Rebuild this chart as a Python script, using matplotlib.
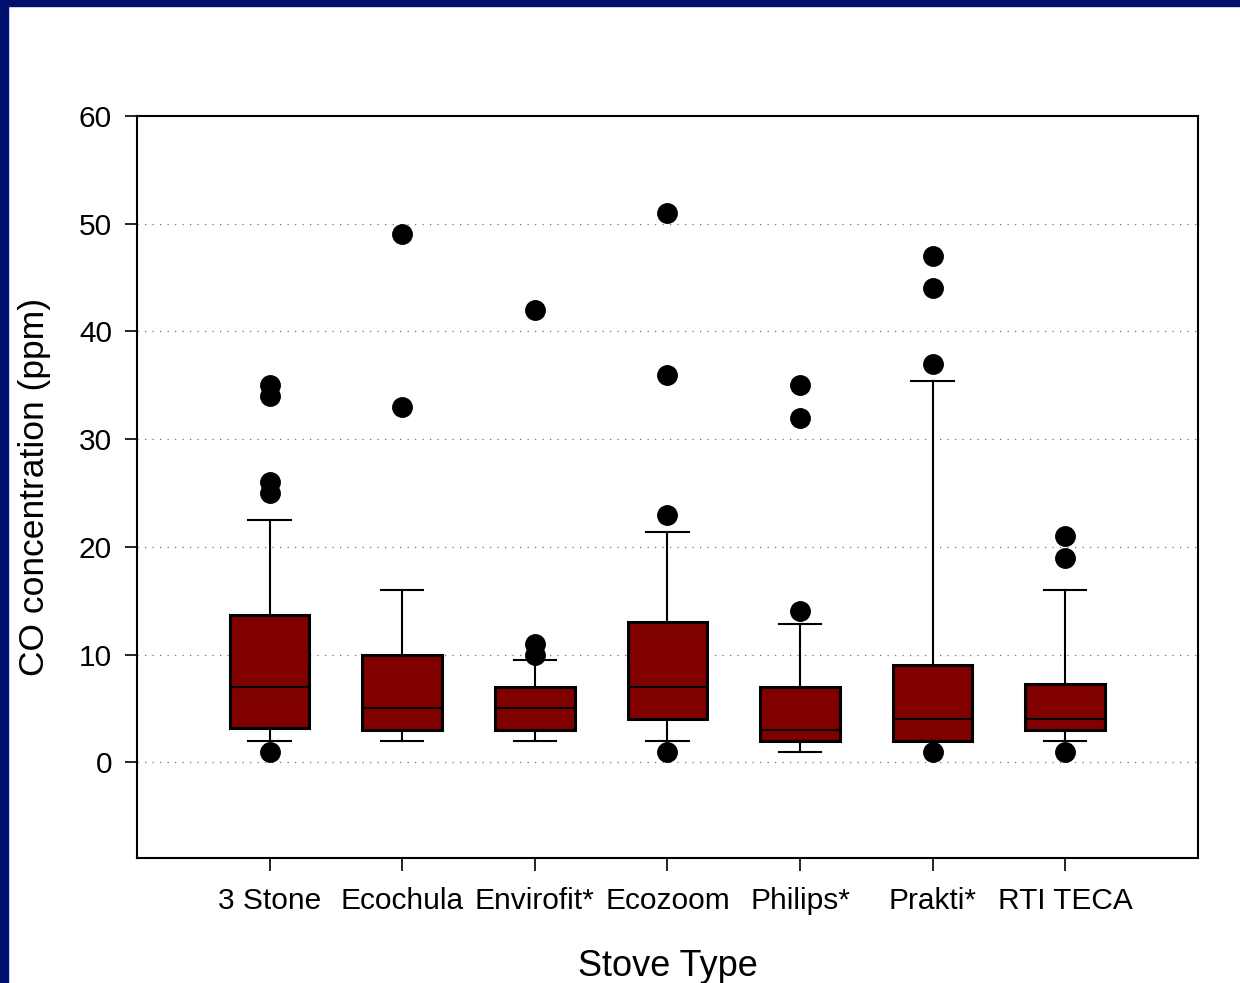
import matplotlib
matplotlib.use("Agg")
import matplotlib.pyplot as plt
from matplotlib.patches import Rectangle

plt.rcParams['font.family'] = ['Liberation Sans', 'DejaVu Sans']

# box statistics (ppm)
stoves = ['3 Stone', 'Ecochula', 'Envirofit*', 'Ecozoom', 'Philips*', 'Prakti*', 'RTI TECA']
q1 = [3.2, 3.0, 3.0, 4.0, 2.0, 2.0, 3.0]
med = [7.0, 5.0, 5.0, 7.0, 3.0, 4.0, 4.0]
q3 = [13.7, 10.0, 7.0, 13.0, 7.0, 9.0, 7.3]
whis_lo = [2.0, 2.0, 2.0, 2.0, 1.0, 2.0, 2.0]
whis_hi = [22.5, 16.0, 9.5, 21.4, 12.8, 35.4, 16.0]
outliers = [
    [1, 25, 26, 34, 35],
    [33, 49],
    [10, 11, 42],
    [1, 23, 36, 51],
    [14, 32, 35],
    [1, 37, 44, 47],
    [1, 19, 21],
]

stats = []
for i, name in enumerate(stoves):
    stats.append({'label': name, 'q1': q1[i], 'med': med[i], 'q3': q3[i],
                  'whislo': whis_lo[i], 'whishi': whis_hi[i], 'fliers': outliers[i]})

fig = plt.figure(figsize=(12.4, 9.83), dpi=100)
ax = fig.add_axes([0.1105, 0.127, 0.8555, 0.755])

ax.bxp(stats, positions=range(1, 8), widths=0.6, patch_artist=True,
       boxprops=dict(facecolor='#800000', edgecolor='black', linewidth=2.2),
       medianprops=dict(color='black', linewidth=1.5),
       whiskerprops=dict(color='black', linewidth=1.5),
       capprops=dict(color='black', linewidth=1.5),
       capwidths=0.32,
       flierprops=dict(marker='o', markerfacecolor='black', markeredgecolor='black',
                       markersize=14, linestyle='none'))

ax.set_xlim(0, 8)
ax.set_ylim(-8.9, 60)
ax.set_yticks([0, 10, 20, 30, 40, 50, 60])
ax.set_xticks(range(1, 8))
ax.set_xticklabels(stoves)
ax.tick_params(axis='both', direction='out', length=9, width=1.2, labelsize=21.5, pad=12)
ax.tick_params(axis='y', pad=9)

for y in [0, 10, 20, 30, 40, 50]:
    ax.axhline(y, color='#b05070', linestyle=(0, (1, 5)), linewidth=0.9, zorder=0)

for s in ax.spines.values():
    s.set_linewidth(1.5)

ax.set_xlabel('Stove Type', fontsize=26, labelpad=24)
ax.set_ylabel('CO concentration (ppm)', fontsize=25.5, labelpad=20)

# navy frame on the left and top edges
fig.patches.append(Rectangle((0, 0), 8 / 1240, 1, transform=fig.transFigure,
                             color='#00106f', zorder=10))
fig.patches.append(Rectangle((0, 1 - 6 / 983), 1, 6 / 983, transform=fig.transFigure,
                             color='#00106f', zorder=10))

fig.savefig('out.png', dpi=100)
